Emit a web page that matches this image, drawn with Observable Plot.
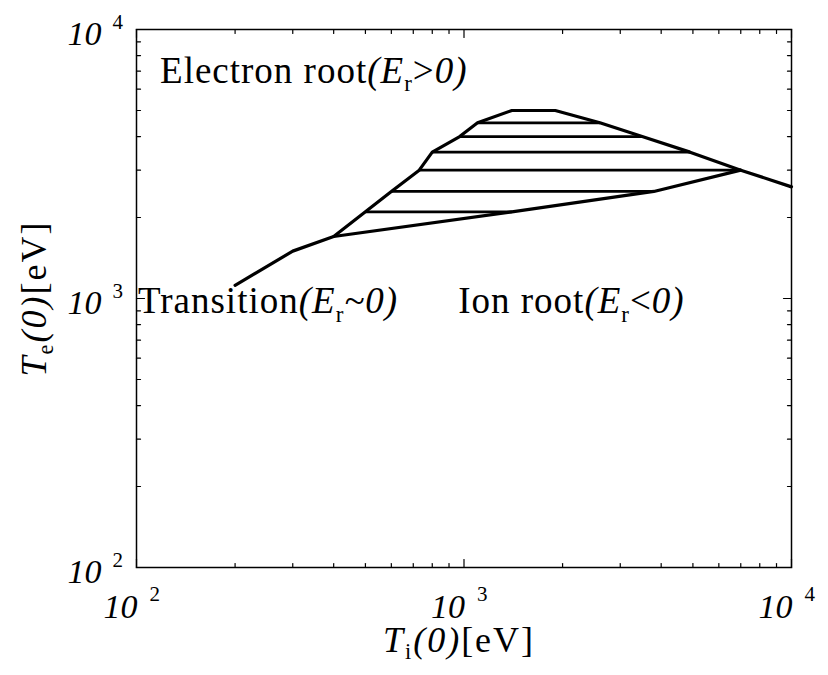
<!DOCTYPE html>
<html><head><meta charset="utf-8">
<script src="https://cdn.jsdelivr.net/npm/d3@7"></script>
<script src="https://cdn.jsdelivr.net/npm/@observablehq/plot@0.6"></script>
<style>body{margin:0;background:#fff;} svg{display:block}</style>
</head><body><div id="chart"></div>
<script>
// Upper boundary of the hatched (transition) region, continuing as the root boundary
const upperX = [200, 300, 400, 500, 600, 730, 800, 970, 1100, 1400, 1900, 2600, 3500, 4900, 7000, 10000];
const upperY = [1120, 1500, 1700, 2100, 2500, 3000, 3500, 4000, 4500, 5000, 5000, 4500, 4000, 3500, 3000, 2600];
// Lower boundary of the hatched region
const lowerX = [400, 1400, 3800, 7000];
const lowerY = [1700, 2100, 2500, 3000];
// Horizontal hatch lines
const hatchY  = [2100, 2500, 3000, 3500, 4000, 4500];
const hatchX1 = [500, 600, 730, 800, 970, 1100];
const hatchX2 = [1400, 3800, 7000, 4900, 3500, 2600];
// Axis ticks
const majorTicks = [100, 1000, 10000];
const tickExponents = ["2", "3", "4"];
const minorTicks = [200, 300, 400, 500, 600, 700, 800, 900, 2000, 3000, 4000, 5000, 6000, 7000, 8000, 9000];
// Region annotations (data coordinates of text start/baseline)
const labelX = [118, 101, 960];
const labelY = [6350, 880, 880];
const labelSegments = [
  [["Electron root", ""], ["(E", "i"], ["r", "sub"], [">", ""], ["0)", "i"]],
  [["Transition", ""], ["(E", "i"], ["r", "sub"], ["~0)", "i"]],
  [["Ion root", ""], ["(E", "i"], ["r", "sub"], ["<", ""], ["0)", "i"]]
];
const xTitleSegments = [["T", "i"], ["i", "sub"], ["(0)", "i"], ["[eV]", ""]];
const yTitleSegments = [["T", "i"], ["e", "sub"], ["(0)", "i"], ["[eV]", ""]];

const FONT = '"Liberation Serif", "Times New Roman", Times, serif';
const ANN_SIZE = 37, TITLE_SIZE = 36;

const tickShape = {draw(ctx, l) { ctx.moveTo(0, 0); ctx.lineTo(0, -l); }};
function ticks(values, len) {
  const common = {length: len, anchor: "start", shape: tickShape, stroke: "black", strokeWidth: 1.2};
  return [
    Plot.vector(values, {x: d => d, frameAnchor: "bottom", rotate: 0, ...common}),
    Plot.vector(values, {x: d => d, frameAnchor: "top", rotate: 180, ...common}),
    Plot.vector(values, {y: d => d, frameAnchor: "left", rotate: 90, ...common}),
    Plot.vector(values, {y: d => d, frameAnchor: "right", rotate: -90, ...common})
  ];
}

const upper = upperX.map((x, i) => ({x, y: upperY[i]}));
const lower = lowerX.map((x, i) => ({x, y: lowerY[i]}));
const hatch = hatchY.map((y, i) => ({x1: hatchX1[i], x2: hatchX2[i], y}));

const txt = {fill: "black", fontFamily: FONT};

const svg = Plot.plot({
  width: 828, height: 675,
  marginLeft: 136, marginRight: 37, marginTop: 29, marginBottom: 108,
  x: {type: "log", domain: [100, 10000], axis: null},
  y: {type: "log", domain: [100, 10000], axis: null},
  style: {fontFamily: FONT, background: "white", color: "black"},
  marks: [
    ...ticks(minorTicks, 4),
    ...ticks(majorTicks, 8),
    Plot.frame({stroke: "black", strokeWidth: 1.5}),
    Plot.link(hatch, {x1: "x1", x2: "x2", y1: "y", y2: "y", stroke: "black", strokeWidth: 2.8}),
    Plot.line(upper, {x: "x", y: "y", stroke: "black", strokeWidth: 3.2, strokeLinejoin: "round"}),
    Plot.line(lower, {x: "x", y: "y", stroke: "black", strokeWidth: 3.2, strokeLinejoin: "round"}),
    // x tick labels
    Plot.text(majorTicks, {x: d => d, frameAnchor: "bottom", text: () => "10", textAnchor: "end", lineAnchor: "bottom", dx: 1, dy: 50, fontSize: 34, fontStyle: "italic", ...txt}),
    Plot.text(majorTicks, {x: d => d, frameAnchor: "bottom", text: (d, i) => tickExponents[i], textAnchor: "start", lineAnchor: "bottom", dx: 13, dy: 33, fontSize: 21, ...txt}),
    // y tick labels
    Plot.text(majorTicks, {y: d => d, frameAnchor: "left", text: () => "10", textAnchor: "end", lineAnchor: "bottom", dx: -35, dy: 15, fontSize: 34, fontStyle: "italic", ...txt}),
    Plot.text(majorTicks, {y: d => d, frameAnchor: "left", text: (d, i) => tickExponents[i], textAnchor: "start", lineAnchor: "bottom", dx: -24, dy: -1, fontSize: 21, ...txt}),
    // annotations
    Plot.text(labelX.map((d, i) => i), {x: i => labelX[i], y: i => labelY[i], text: i => "ANN" + i, textAnchor: "start", lineAnchor: "bottom", fontSize: ANN_SIZE, ...txt}),
    // axis titles
    Plot.text([0], {frameAnchor: "bottom", text: () => "XTITLE", textAnchor: "middle", lineAnchor: "bottom", dx: -5, dy: 84, fontSize: TITLE_SIZE, ...txt}),
    Plot.text([0], {frameAnchor: "left", text: () => "YTITLE", textAnchor: "middle", lineAnchor: "bottom", rotate: -90, dx: -91, fontSize: TITLE_SIZE, ...txt})
  ]
});

function fillRich(el, segs, fs, spacing) {
  while (el.firstChild) el.removeChild(el.firstChild);
  const ns = "http://www.w3.org/2000/svg";
  let shifted = false;
  const sh = 0.22 * fs;
  el.setAttribute("letter-spacing", spacing);
  for (const [s, style] of segs) {
    const t = document.createElementNS(ns, "tspan");
    t.textContent = s;
    t.setAttribute("font-style", style === "i" ? "italic" : "normal");
    if (style === "sub") {
      t.setAttribute("font-size", (0.62 * fs) + "px");
      t.setAttribute("dy", sh);
      shifted = true;
    } else {
      t.setAttribute("font-size", fs + "px");
      if (shifted) { t.setAttribute("dy", -sh); shifted = false; }
    }
    el.appendChild(t);
  }
}

const rich = {
  XTITLE: [xTitleSegments, TITLE_SIZE, 2],
  YTITLE: [yTitleSegments, TITLE_SIZE, 2],
  ANN0: [labelSegments[0], ANN_SIZE, 1],
  ANN1: [labelSegments[1], ANN_SIZE, 1],
  ANN2: [labelSegments[2], ANN_SIZE, 1]
};
d3.select(svg).selectAll("text").each(function() {
  const k = this.textContent;
  if (rich[k]) fillRich(this, rich[k][0], rich[k][1], rich[k][2]);
});

document.getElementById("chart").appendChild(svg);
</script>
</body></html>
